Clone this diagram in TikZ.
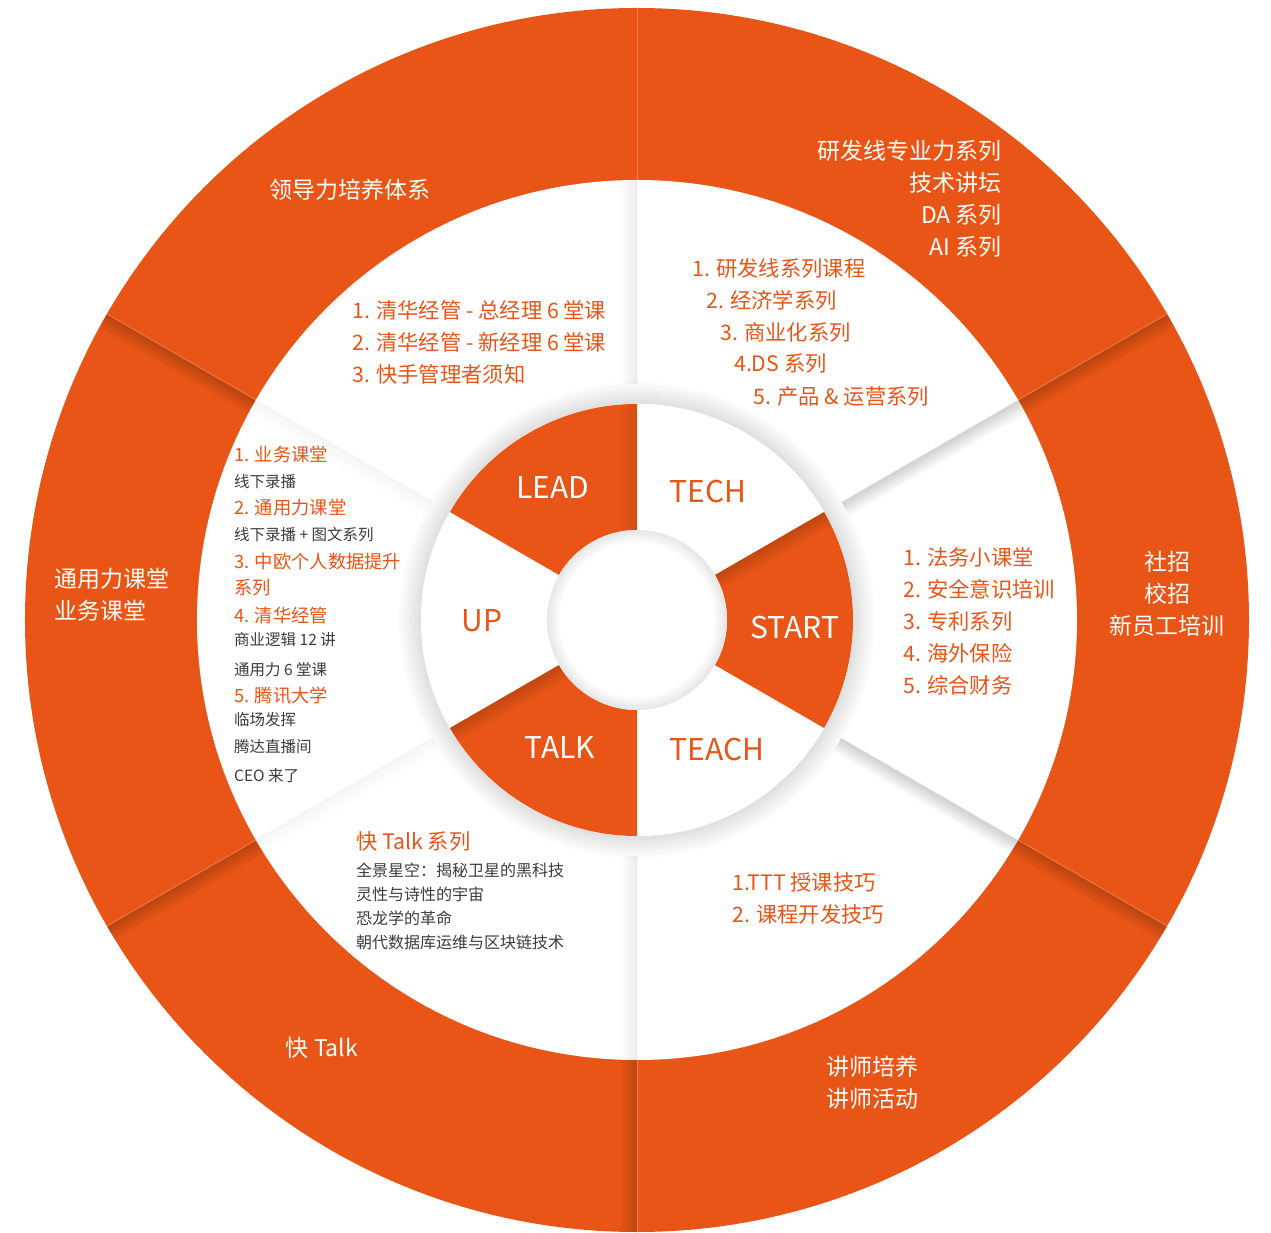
\documentclass[tikz,border=0pt]{standalone}
\usepackage{fontspec}
\setmainfont{Noto Sans CJK SC}
\usetikzlibrary{positioning}
\definecolor{kuai}{HTML}{E85516}
\definecolor{ink}{HTML}{3C3C3C}

% soft shadow along a seam: angle, side, inner r, outer r, top opacity
\newcommand{\seamshade}[5]{%
  \begin{scope}[rotate=#1]
    \foreach \k [evaluate=\k as \op using #5-#5*(\k-1)/10] in {1,...,10}
      \draw[black, opacity=\op, line width=1.7pt] (#3,{#2*(\k-0.5)*1.6}) -- (#4,{#2*(\k-0.5)*1.6});
  \end{scope}}

\tikzset{
  ringtext/.style={white, inner sep=0pt, font=\fontsize{23}{32}\selectfont},
  wheel/.style={inner sep=0pt, font=\fontsize{30}{30}\selectfont},
  item/.style={kuai, anchor=west, inner sep=0pt, font=\fontsize{21.3}{32}\selectfont},
  upitem/.style={kuai, anchor=west, inner sep=0pt, font=\fontsize{18.3}{24}\selectfont},
  upnote/.style={ink, anchor=west, inner sep=0pt, font=\fontsize{15.5}{24}\selectfont},
}

\begin{document}
\begin{tikzpicture}[x=1pt, y=1pt]
\useasboundingbox (-637,-613) rectangle (634,620);

% outer ring
\fill[kuai] (0,0) circle (612);
\seamshade{30}{-1}{440}{612}{0.17}
\seamshade{150}{1}{440}{612}{0.17}
\seamshade{210}{1}{440}{612}{0.17}
\seamshade{270}{-1}{440}{612}{0.17}
\seamshade{330}{-1}{440}{612}{0.17}
\foreach \a in {30,90,...,330}
  \draw[kuai!75!white, line width=0.8pt] (\a:440) -- (\a:612);

% white ring
\fill[white] (0,0) circle (440);
\seamshade{30}{-1}{236}{440}{0.16}
\seamshade{330}{-1}{236}{440}{0.16}
\seamshade{90}{1}{236}{440}{0.07}
\seamshade{270}{-1}{236}{440}{0.07}
\seamshade{150}{1}{236}{440}{0.03}
\seamshade{210}{1}{236}{440}{0.03}
\foreach \a in {30,90,...,330}
  \draw[gray!10, line width=0.6pt] (\a:236) -- (\a:440);

% grey rim round the wheel
\foreach \k [evaluate=\k as \op using 0.12-0.01*\k] in {1,...,11}
  \draw[black, opacity=\op, line width=2.1pt] (0,0) circle ({215+2*\k});
\fill[white] (0,0) circle (216);

% wheel sectors
\foreach \a in {90,210,330}
  \fill[kuai] (\a:216) arc[start angle=\a, end angle=\a+60, radius=216]
    -- ({\a+60}:90) arc[start angle=\a+60, end angle=\a, radius=90] -- cycle;
\seamshade{30}{-1}{90}{216}{0.14}
\seamshade{210}{1}{90}{216}{0.14}
\seamshade{90}{1}{90}{216}{0.08}

% hole
\fill[white] (0,0) circle (90);
\foreach \k [evaluate=\k as \op using 0.10-0.011*\k] in {1,...,8}
  \draw[black, opacity=\op, line width=1.6pt] (0,0) circle ({90.8-1.6*\k});

% outer ring texts
\node[ringtext] (leadring) at (-287,430) {领导力培养体系};
\node[ringtext, anchor=east, align=right] (techring) at (365,421)
  {研发线专业力系列\\技术讲坛\\DA 系列\\AI 系列};
\node[ringtext, align=center] (startring) at (530,26) {社招\\校招\\新员工培训};
\node[ringtext, anchor=west, align=left] (upring) at (-583,25) {通用力课堂\\业务课堂};
\node[ringtext] (talkring) at (-315,-428) {快 Talk};
\node[ringtext, anchor=west, align=left] (teachring) at (189,-463) {讲师培养\\讲师活动};

% wheel labels
\node[wheel, white] (lead) at (-84,132) {LEAD};
\node[wheel, kuai] (tech) at (71,128) {TECH};
\node[wheel, white] (start) at (158,-8) {START};
\node[wheel, kuai] (teach) at (80,-130) {TEACH};
\node[wheel, white] (talk) at (-77,-128) {TALK};
\node[wheel, kuai] (up) at (-155,-1) {UP};

% LEAD
\node[item, align=left] (leadlist) at (-285,278)
  {1. 清华经管 - 总经理 6 堂课\\2. 清华经管 - 新经理 6 堂课\\3. 快手管理者须知};

% TECH
\node[item] (tech1) at (55,352) {1. 研发线系列课程};
\node[item] (tech2) at (69,320) {2. 经济学系列};
\node[item] (tech3) at (83,288) {3. 商业化系列};
\node[item] (tech4) at (97,256) {4.DS 系列};
\node[item] (tech5) at (116,224) {5. 产品 \& 运营系列};

% START
\node[item, align=left] (startlist) at (266,-1)
  {1. 法务小课堂\\2. 安全意识培训\\3. 专利系列\\4. 海外保险\\5. 综合财务};

% TEACH
\node[item, align=left] (teachlist) at (95,-278) {1.TTT 授课技巧\\2. 课程开发技巧};

% TALK
\node[item] (talkhead) at (-281,-221) {快 Talk 系列};
\node[ink, anchor=west, inner sep=0pt, align=left, font=\fontsize{16}{24}\selectfont] (talklist) at (-281,-286)
  {全景星空：揭秘卫星的黑科技\\灵性与诗性的宇宙\\恐龙学的革命\\朝代数据库运维与区块链技术};

% UP
\node[upitem] (up1) at (-403,165) {1. 业务课堂};
\node[upnote] (up2) at (-403,138) {线下录播};
\node[upitem] (up3) at (-403,112) {2. 通用力课堂};
\node[upnote] (up4) at (-403,85) {线下录播 + 图文系列};
\node[upitem] (up5) at (-403,58) {3. 中欧个人数据提升};
\node[upitem] (up6) at (-403,32) {系列};
\node[upitem] (up7) at (-403,4) {4. 清华经管};
\node[upnote] (up8) at (-403,-20) {商业逻辑 12 讲};
\node[upnote] (up9) at (-403,-50) {通用力 6 堂课};
\node[upitem] (up10) at (-403,-76) {5. 腾讯大学};
\node[upnote] (up11) at (-403,-100) {临场发挥};
\node[upnote] (up12) at (-403,-127) {腾达直播间};
\node[upnote] (up13) at (-403,-156) {CEO 来了};

\end{tikzpicture}
\end{document}
